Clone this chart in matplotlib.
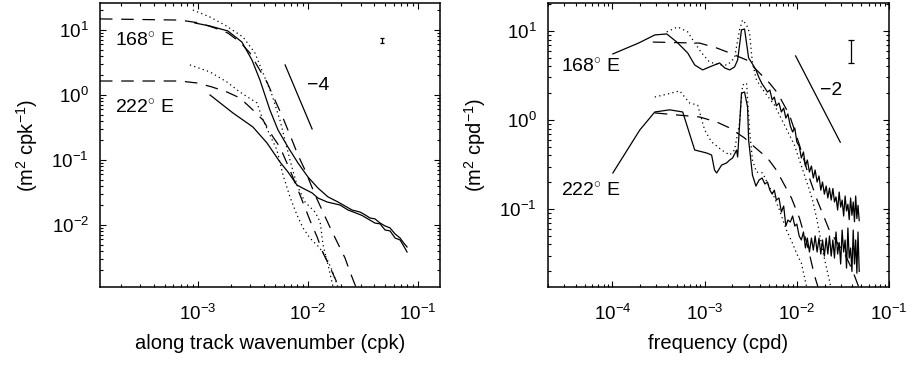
import matplotlib
matplotlib.use("Agg")
import matplotlib.pyplot as plt
from matplotlib.ticker import LogLocator, NullFormatter

OUTPUT_PLOT_FILE = "out.png"

# ---- left panel: wavenumber spectra (cpk) ----
wn_168_obs = [9.39e-4, 1.29e-3, 1.87e-3, 2.51e-3, 3.10e-3, 3.66e-3, 4.51e-3, 5.34e-3, 6.58e-3,
              8.11e-3, 1.00e-2, 1.23e-2, 1.52e-2, 1.87e-2, 2.51e-2, 2.97e-2, 3.30e-2, 3.66e-2,
              4.06e-2, 4.52e-2, 5.01e-2, 5.56e-2, 6.18e-2, 6.86e-2, 7.40e-2, 7.94e-2]
psd_168_obs = [12.8, 11.5, 9.66, 6.53, 3.45, 1.70, 0.588, 0.290, 0.158, 0.090, 0.0547, 0.0371,
               0.027, 0.0226, 0.017, 0.0158, 0.0143, 0.0128, 0.0124, 0.0107, 0.00966, 0.0090,
               0.00727, 0.0063, 0.00528, 0.00459]

wn_222_obs = [1.29e-3, 2.08e-3, 3.16e-3, 4.24e-3, 5.56e-3, 6.58e-3, 7.94e-3, 8.90e-3, 1.09e-2,
              1.23e-2, 1.49e-2, 1.95e-2, 2.31e-2, 2.80e-2, 3.10e-2, 3.50e-2, 4.06e-2, 4.52e-2,
              5.01e-2, 5.56e-2, 6.18e-2, 6.86e-2, 7.40e-2, 7.94e-2]
psd_222_obs = [1.0, 0.529, 0.322, 0.183, 0.0931, 0.0654, 0.0412, 0.0371, 0.0311, 0.026, 0.0226,
               0.0203, 0.017, 0.0150, 0.0140, 0.0124, 0.0107, 0.0104, 0.00838, 0.0081, 0.0063,
               0.00588, 0.00475, 0.00384]

wn_168_dot = [9.0e-4, 1.29e-3, 1.76e-3, 2.57e-3, 3.30e-3, 3.90e-3, 4.71e-3, 5.56e-3, 6.18e-3,
              6.86e-3, 7.94e-3, 9.39e-3, 1.16e-2, 1.29e-2, 1.37e-2, 1.52e-2, 1.69e-2]
psd_168_dot = [20.3, 15.8, 11.9, 7.8, 4.43, 2.18, 1.0, 0.412, 0.203, 0.1, 0.0412, 0.0226, 0.0158,
               0.0111, 0.00492, 0.00243, 0.00111]

wn_222_dot = [8.46e-4, 1.29e-3, 1.84e-3, 2.41e-3, 3.44e-3, 3.90e-3, 4.51e-3, 5.22e-3, 5.93e-3,
              6.86e-3, 7.94e-3, 9.01e-3, 1.04e-2, 1.23e-2, 1.43e-2, 1.65e-2, 1.87e-2]
psd_222_dot = [2.9, 2.26, 1.58, 1.11, 0.753, 0.412, 0.242, 0.143, 0.0588, 0.027, 0.0143, 0.009,
               0.0063, 0.00475, 0.00345, 0.00203, 0.00111]

wn_168_dash = [1.29e-4, 6.86e-4, 1.04e-3, 1.43e-3, 1.87e-3, 2.41e-3, 2.97e-3, 3.51e-3, 4.24e-3,
               5.01e-3, 5.93e-3, 7.16e-3, 8.11e-3, 9.39e-3, 1.16e-2, 1.58e-2, 1.84e-2, 2.17e-2,
               2.41e-2, 2.79e-2]
psd_168_dash = [14.8, 14.2, 12.8, 10.7, 8.99, 6.53, 4.43, 2.70, 1.58, 0.838, 0.443, 0.203, 0.119,
                0.0702, 0.029, 0.00931, 0.00547, 0.0031, 0.00189, 0.001]

wn_222_dash = [1.29e-4, 6.86e-4, 9.79e-4, 1.34e-3, 1.84e-3, 2.41e-3, 3.16e-3, 3.90e-3, 4.81e-3,
               5.56e-3, 6.86e-3, 8.46e-3, 1.04e-2, 1.21e-2, 1.37e-2, 1.58e-2, 1.84e-2, 1.95e-2]
psd_222_dash = [1.64, 1.64, 1.53, 1.33, 1.11, 0.899, 0.588, 0.412, 0.226, 0.158, 0.0702, 0.029,
                0.0119, 0.00654, 0.00371, 0.00226, 0.00128, 0.001]

slope4_wn = [6.2e-3, 1.09e-2]
slope4_psd = [2.9, 0.30]
err_wn = 0.047
err_psd = [6.3, 6.9, 7.5]  # low, centre, high

# ---- right panel: frequency spectra (cpd) ----
freq_168_head = [1.01e-4, 1.93e-4, 2.88e-4, 3.88e-4, 4.98e-4, 6.55e-4, 7.80e-4, 9.50e-4, 1.13e-3,
                 1.28e-3, 1.45e-3, 1.65e-3, 1.87e-3, 2.11e-3, 2.28e-3, 2.51e-3, 2.71e-3]
psd_168_head = [5.52, 7.33, 9.02, 9.25, 7.52, 5.66, 4.15, 3.65, 3.94, 4.15, 4.37, 3.84, 3.65, 3.94,
                4.72, 10.3, 10.5]

freq_222_head = [1.01e-4, 1.98e-4, 2.88e-4, 4.18e-4, 5.78e-4, 7.80e-4, 1.05e-3, 1.19e-3, 1.28e-3,
                 1.35e-3, 1.53e-3, 1.73e-3, 1.87e-3, 2.01e-3, 2.22e-3, 2.28e-3, 2.51e-3, 2.71e-3,
                 2.92e-3]
psd_222_head = [0.254, 0.772, 1.23, 1.30, 1.23, 0.46, 0.426, 0.404, 0.274, 0.254, 0.312, 0.329,
                0.355, 0.374, 0.46, 0.384, 2.01, 2.06, 1.40]

freq_tail = [0.0030, 0.0033, 0.0036, 0.0039, 0.0042, 0.0045, 0.0048, 0.0051, 0.0054, 0.0057,
             0.0060, 0.0064, 0.0068, 0.0072, 0.0076, 0.0080, 0.0085, 0.0090, 0.0095, 0.0100,
             0.0106, 0.0112, 0.0118, 0.0124, 0.0130, 0.0137, 0.0144, 0.0151, 0.0158, 0.0166,
             0.0174, 0.0182, 0.0190, 0.0199, 0.0208, 0.0217, 0.0226, 0.0236, 0.0246, 0.0256,
             0.0266, 0.0277, 0.0288, 0.0299, 0.0310, 0.0322, 0.0334, 0.0346, 0.0358, 0.0370,
             0.0383, 0.0396, 0.0409, 0.0422, 0.0435, 0.0448, 0.0461, 0.0475]
psd_168_tail = [4.97, 4.26, 3.65, 2.96, 2.54, 2.29, 2.06, 2.17, 1.68, 1.81, 1.44, 1.55, 1.23, 1.36,
                1.05, 1.17, 0.856, 0.733, 0.813, 0.566, 0.510, 0.374, 0.437, 0.304, 0.355, 0.260,
                0.304, 0.223, 0.274, 0.201, 0.235, 0.163, 0.201, 0.147, 0.181, 0.133, 0.172, 0.126,
                0.170, 0.120, 0.137, 0.0975, 0.155, 0.105, 0.126, 0.0834, 0.140, 0.0950, 0.113,
                0.0760, 0.133, 0.0850, 0.120, 0.0720, 0.140, 0.0780, 0.110, 0.0740]
psd_222_tail = [0.596, 0.241, 0.181, 0.212, 0.223, 0.191, 0.201, 0.163, 0.147, 0.163, 0.126, 0.133,
                0.0925, 0.108, 0.0644, 0.0752, 0.0714, 0.0834, 0.0644, 0.0678, 0.0498, 0.0449,
                0.0552, 0.0365, 0.0472, 0.0329, 0.0472, 0.0346, 0.0498, 0.0329, 0.0472, 0.0312,
                0.0449, 0.0296, 0.0472, 0.0312, 0.0498, 0.0296, 0.0449, 0.0281, 0.0552, 0.0312,
                0.0420, 0.0241, 0.0580, 0.0329, 0.0449, 0.0217, 0.0612, 0.0281, 0.0365, 0.0199,
                0.0580, 0.0241, 0.0449, 0.0190, 0.0552, 0.0199]

freq_168_dot = [3.88e-4, 5.10e-4, 6.55e-4, 7.80e-4, 9.28e-4, 1.13e-3, 1.45e-3, 1.77e-3, 2.11e-3,
                2.39e-3, 2.58e-3, 2.85e-3, 3.07e-3, 3.30e-3, 3.65e-3, 4.46e-3, 5.72e-3, 7.34e-3,
                9.42e-3, 1.16e-2, 1.37e-2, 1.48e-2, 1.63e-2, 1.76e-2, 1.90e-2, 2.09e-2, 2.25e-2,
                2.40e-2]
psd_168_dot2 = [9.75, 11.1, 9.75, 7.33, 5.66, 4.48, 4.15, 4.15, 4.97, 10.3, 13.3, 11.7, 9.5, 4.37,
                2.81, 2.06, 1.47, 0.879, 0.524, 0.274, 0.163, 0.126, 0.0813, 0.0537, 0.0346,
                0.0223, 0.0159, 0.0117]

freq_222_dot = [2.88e-4, 4.40e-4, 5.36e-4, 6.88e-4, 8.40e-4, 1.00e-3, 1.19e-3, 1.53e-3, 1.87e-3,
                2.11e-3, 2.39e-3, 2.58e-3, 2.85e-3, 3.07e-3, 3.30e-3, 3.65e-3, 4.25e-3, 5.45e-3,
                6.48e-3, 7.71e-3, 8.96e-3, 9.90e-3, 1.12e-2, 1.21e-2, 1.30e-2]
psd_222_dot2 = [1.81, 2.01, 2.12, 1.55, 1.47, 0.772, 0.566, 0.46, 0.404, 0.46, 0.925, 2.47, 2.6,
                0.772, 0.355, 0.26, 0.254, 0.151, 0.0975, 0.058, 0.0415, 0.032, 0.0247, 0.0172,
                0.0123]

freq_168_dash = [2.74e-4, 8.83e-4, 1.35e-3, 1.87e-3, 2.85e-3, 3.65e-3, 5.05e-3, 6.17e-3, 8.32e-3,
                 1.067e-2, 1.37e-2, 1.66e-2, 2.25e-2, 3.44e-2, 4.00e-2, 4.75e-2]
psd_168_dash2 = [7.5, 7.3, 6.44, 5.66, 4.72, 3.65, 2.6, 2.01, 1.14, 0.524, 0.223, 0.126, 0.058,
                 0.0289, 0.0206, 0.0129]

freq_222_dash = [2.88e-4, 8.83e-4, 1.35e-3, 1.87e-3, 2.71e-3, 3.48e-3, 4.80e-3, 6.00e-3, 7.34e-3,
                 8.74e-3, 1.067e-2, 1.30e-2, 1.55e-2, 1.76e-2]
psd_222_dash2 = [1.20, 1.08, 0.95, 0.813, 0.628, 0.497, 0.374, 0.274, 0.186, 0.133, 0.0792, 0.0394,
                 0.0181, 0.0117]

slope2_freq = [9.7e-3, 2.96e-2]
slope2_psd = [5.24, 0.563]
err_freq = 0.039
err_psd2 = [4.37, 5.88, 7.92]

DASH = (0, (10, 7))
DOT = (0, (1, 2.6))
TICK_FS = 13.5
LABEL_FS = 14.5
NOTE_FS = 14


def style_axes(ax, xlim, ylim):
    ax.set_xscale("log")
    ax.set_yscale("log")
    ax.set_xlim(*xlim)
    ax.set_ylim(*ylim)
    for axis in (ax.xaxis, ax.yaxis):
        axis.set_major_locator(LogLocator(base=10, numticks=20))
        axis.set_minor_locator(LogLocator(base=10, subs=range(2, 10), numticks=20))
        axis.set_minor_formatter(NullFormatter())
    ax.tick_params(which="both", direction="in", top=True, right=True, width=0.8)
    ax.tick_params(which="major", length=4, labelsize=TICK_FS)
    ax.tick_params(axis="x", which="major", pad=12)
    ax.tick_params(axis="y", which="major", pad=8)
    ax.tick_params(which="minor", length=2)
    for s in ax.spines.values():
        s.set_linewidth(1.1)


def plot_errbar(ax, x, lo_c_hi, cap):
    lo, c, hi = lo_c_hi
    ax.errorbar([x], [c], yerr=[[c - lo], [hi - c]], fmt="none", ecolor="k",
                elinewidth=0.9, capsize=cap, capthick=0.9)


def main():
    plt.rcParams["font.family"] = ["Liberation Sans", "DejaVu Sans"]
    plt.rcParams["mathtext.fontset"] = "custom"
    plt.rcParams["mathtext.rm"] = "Liberation Sans"
    plt.rcParams["mathtext.it"] = "Liberation Sans:italic"
    plt.rcParams["mathtext.bf"] = "Liberation Sans:bold"

    fig = plt.figure(figsize=(9.12, 3.66), dpi=100)
    ax1 = fig.add_axes([0.1096, 0.2158, 0.3728, 0.7760])
    ax2 = fig.add_axes([0.6009, 0.2158, 0.3739, 0.7760])

    lw = 0.9
    # left panel
    ax1.plot(wn_168_obs, psd_168_obs, color="k", lw=lw)
    ax1.plot(wn_222_obs, psd_222_obs, color="k", lw=lw)
    ax1.plot(wn_168_dot, psd_168_dot, color="k", lw=lw, linestyle=DOT)
    ax1.plot(wn_222_dot, psd_222_dot, color="k", lw=lw, linestyle=DOT)
    ax1.plot(wn_168_dash, psd_168_dash, color="k", lw=lw, linestyle=DASH)
    ax1.plot(wn_222_dash, psd_222_dash, color="k", lw=lw, linestyle=DASH)
    ax1.plot(slope4_wn, slope4_psd, color="k", lw=lw)
    plot_errbar(ax1, err_wn, err_psd, 1.5)
    ax1.text(1.76e-4, 6.78, r"168$^{\circ}$ E", fontsize=NOTE_FS, va="center", ha="left")
    ax1.text(1.76e-4, 0.631, r"222$^{\circ}$ E", fontsize=NOTE_FS, va="center", ha="left")
    ax1.text(9.79e-3, 1.375, "\u22124", fontsize=NOTE_FS, va="center", ha="left")
    style_axes(ax1, (1.29e-4, 0.158), (1.11e-3, 26))
    ax1.set_xlabel("along track wavenumber (cpk)", fontsize=LABEL_FS, labelpad=7)
    ax1.set_ylabel(r"(m$^2$ cpk$^{-1}$)", fontsize=LABEL_FS, labelpad=8)

    # right panel
    ax2.plot(freq_168_head + freq_tail, psd_168_head + psd_168_tail, color="k", lw=lw)
    ax2.plot(freq_222_head + freq_tail, psd_222_head + psd_222_tail, color="k", lw=lw)
    ax2.plot(freq_168_dot, psd_168_dot2, color="k", lw=lw, linestyle=DOT)
    ax2.plot(freq_222_dot, psd_222_dot2, color="k", lw=lw, linestyle=DOT)
    ax2.plot(freq_168_dash, psd_168_dash2, color="k", lw=lw, linestyle=DASH)
    ax2.plot(freq_222_dash, psd_222_dash2, color="k", lw=lw, linestyle=DASH)
    ax2.plot(slope2_freq, slope2_psd, color="k", lw=lw)
    plot_errbar(ax2, err_freq, err_psd2, 2.5)
    ax2.text(2.77e-5, 3.94, r"168$^{\circ}$ E", fontsize=NOTE_FS, va="center", ha="left")
    ax2.text(2.77e-5, 0.159, r"222$^{\circ}$ E", fontsize=NOTE_FS, va="center", ha="left")
    ax2.text(1.8e-2, 2.12, "\u22122", fontsize=NOTE_FS, va="center", ha="left")
    style_axes(ax2, (2.0e-5, 0.1), (0.0133, 20.6))
    ax2.set_xlabel("frequency (cpd)", fontsize=LABEL_FS, labelpad=7)
    ax2.set_ylabel(r"(m$^2$ cpd$^{-1}$)", fontsize=LABEL_FS, labelpad=8)

    fig.savefig(OUTPUT_PLOT_FILE, dpi=100)


if __name__ == "__main__":
    main()
